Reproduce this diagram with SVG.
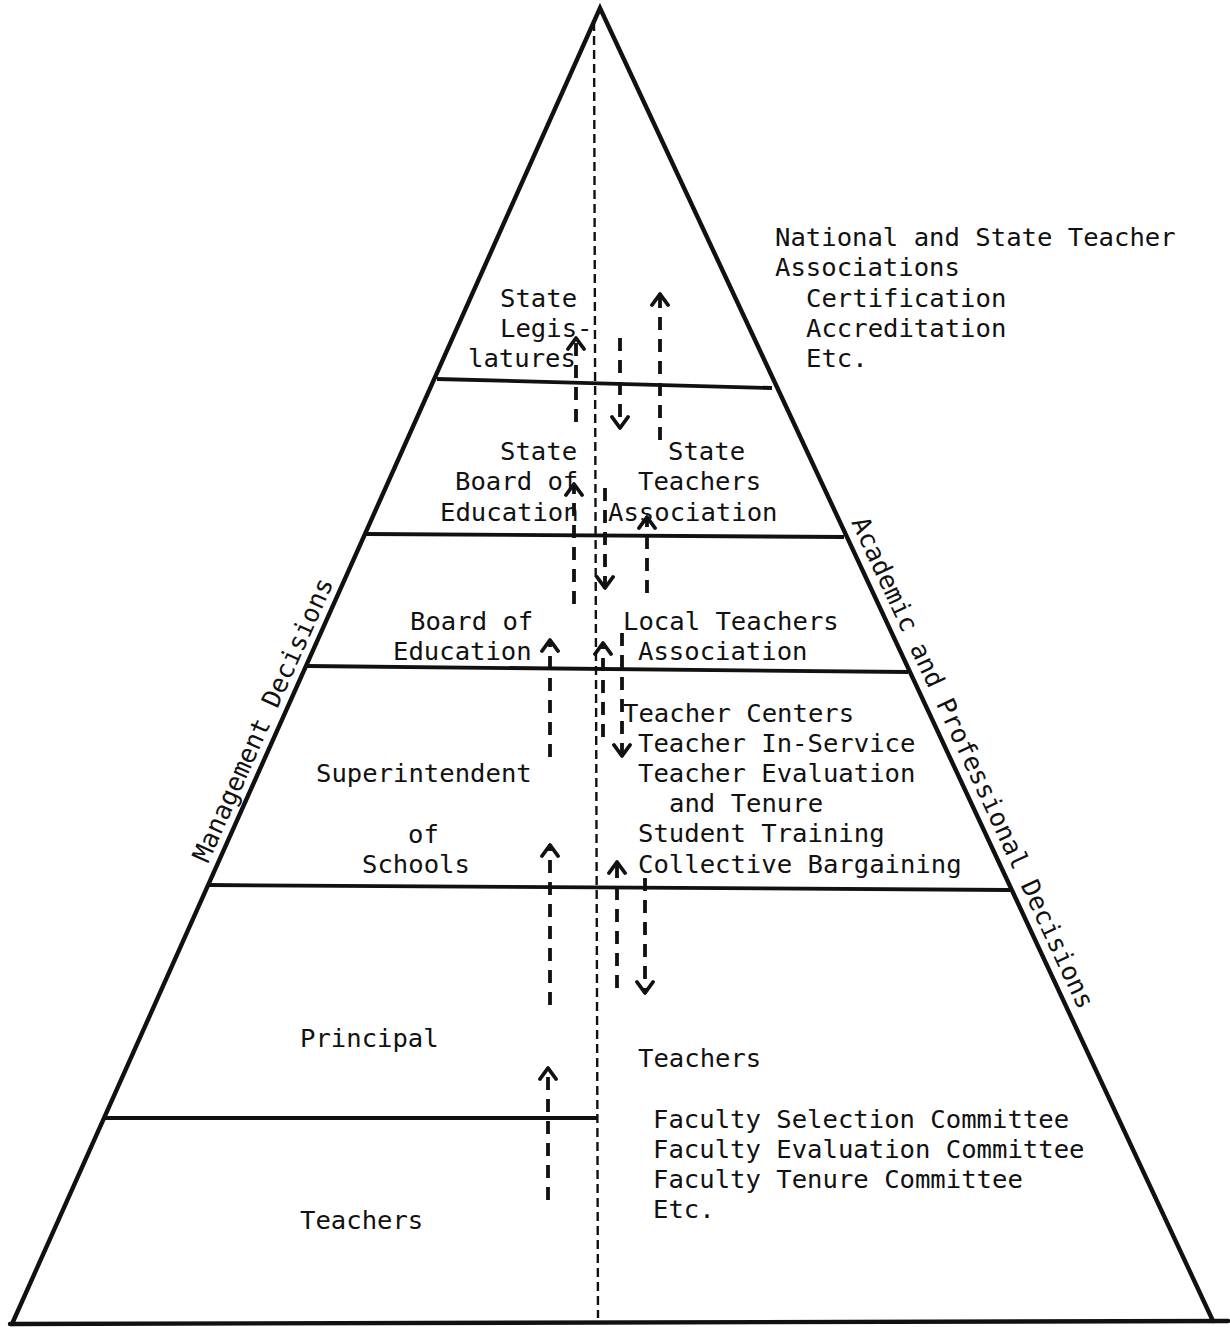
<svg xmlns="http://www.w3.org/2000/svg" width="1230" height="1328" viewBox="0 0 1230 1328">
<defs>
<style>
.t{font-family:"DejaVu Sans Mono","Liberation Mono",monospace;font-size:25.6px;fill:#111}
.edge{stroke:#111;stroke-width:4.4;fill:none;stroke-linecap:round}
.tier{stroke:#111;stroke-width:3.8;fill:none}
.center{stroke:#111;stroke-width:2.4;stroke-dasharray:9 5;fill:none}
.arr{stroke:#111;stroke-width:3.8;stroke-dasharray:13 9;fill:none;marker-end:url(#head)}
</style>
<marker id="head" markerUnits="userSpaceOnUse" markerWidth="18" markerHeight="20" viewBox="-2 -10 15 20" refX="11" refY="0" orient="auto">
<path d="M0,-8 L11,0 L0,8" fill="none" stroke="#111" stroke-width="3.8" stroke-dasharray="none" stroke-linecap="round" stroke-linejoin="round"/>
</marker>
</defs>
<rect width="1230" height="1328" fill="#fff"/>

<g id="pyramid">
<path class="edge" d="M12,1324 L600,8 L1213,1321"/>
<line class="edge" x1="10" y1="1324" x2="1228" y2="1321"/>
<line class="tier" x1="437" y1="379" x2="772" y2="388"/>
<line class="tier" x1="366" y1="534" x2="844" y2="537"/>
<line class="tier" x1="307" y1="666" x2="908" y2="672"/>
<line class="tier" x1="208" y1="885" x2="1010" y2="890"/>
<line class="tier" x1="104" y1="1118" x2="597" y2="1118"/>
</g>

<g id="connectors">
<line class="center" x1="594" y1="22" x2="598" y2="1318"/>
<line class="arr" x1="576" y1="422" x2="576" y2="338"/>
<line class="arr" x1="620" y1="338" x2="620" y2="428"/>
<line class="arr" x1="660" y1="440" x2="660" y2="294"/>
<line class="arr" x1="574" y1="604" x2="574" y2="484"/>
<line class="arr" x1="605" y1="488" x2="605" y2="588"/>
<line class="arr" x1="647" y1="593" x2="647" y2="517"/>
<line class="arr" x1="550" y1="757" x2="550" y2="640"/>
<line class="arr" x1="603" y1="737" x2="603" y2="643"/>
<line class="arr" x1="622" y1="633" x2="622" y2="756"/>
<line class="arr" x1="550" y1="1005" x2="550" y2="845"/>
<line class="arr" x1="617" y1="988" x2="617" y2="862"/>
<line class="arr" x1="645" y1="878" x2="645" y2="993"/>
<line class="arr" x1="548" y1="1200" x2="548" y2="1068"/>
</g>

<g id="national-associations">
<text class="t" x="775" y="246">National and State Teacher</text>
<text class="t" x="775" y="276">Associations</text>
<text class="t" x="806" y="307">Certification</text>
<text class="t" x="806" y="337">Accreditation</text>
<text class="t" x="806" y="367">Etc.</text>
</g>

<g id="state-legislatures">
<text class="t" x="500" y="307">State</text>
<text class="t" x="500" y="337">Legis-</text>
<text class="t" x="468" y="367">latures</text>
</g>

<g id="state-board">
<text class="t" x="500" y="460">State</text>
<text class="t" x="455" y="490">Board of</text>
<text class="t" x="440" y="521">Education</text>
</g>

<g id="state-teachers-association">
<text class="t" x="668" y="460">State</text>
<text class="t" x="638" y="490">Teachers</text>
<text class="t" x="608" y="521">Association</text>
</g>

<g id="board-of-education">
<text class="t" x="410" y="630">Board of</text>
<text class="t" x="393" y="660">Education</text>
</g>

<g id="local-teachers-association">
<text class="t" x="623" y="630">Local Teachers</text>
<text class="t" x="638" y="660">Association</text>
</g>

<g id="superintendent">
<text class="t" x="316" y="782">Superintendent</text>
<text class="t" x="408" y="843">of</text>
<text class="t" x="362" y="873">Schools</text>
</g>

<g id="teacher-activities">
<text class="t" x="623" y="722">Teacher Centers</text>
<text class="t" x="638" y="752">Teacher In-Service</text>
<text class="t" x="638" y="782">Teacher Evaluation</text>
<text class="t" x="669" y="812">and Tenure</text>
<text class="t" x="638" y="842">Student Training</text>
<text class="t" x="638" y="873">Collective Bargaining</text>
</g>

<g id="principal">
<text class="t" x="300" y="1047">Principal</text>
</g>

<g id="teachers-right">
<text class="t" x="638" y="1067">Teachers</text>
</g>

<g id="faculty-committees">
<text class="t" x="653" y="1128">Faculty Selection Committee</text>
<text class="t" x="653" y="1158">Faculty Evaluation Committee</text>
<text class="t" x="653" y="1188">Faculty Tenure Committee</text>
<text class="t" x="653" y="1218">Etc.</text>
</g>

<g id="teachers-left">
<text class="t" x="300" y="1229">Teachers</text>
</g>

<g id="management-decisions">
<text class="t" transform="translate(208,864) rotate(-65.9)">Management Decisions</text>
</g>

<g id="academic-professional-decisions">
<text class="t" transform="translate(851,522) rotate(65)">Academic and Professional Decisions</text>
</g>
</svg>
